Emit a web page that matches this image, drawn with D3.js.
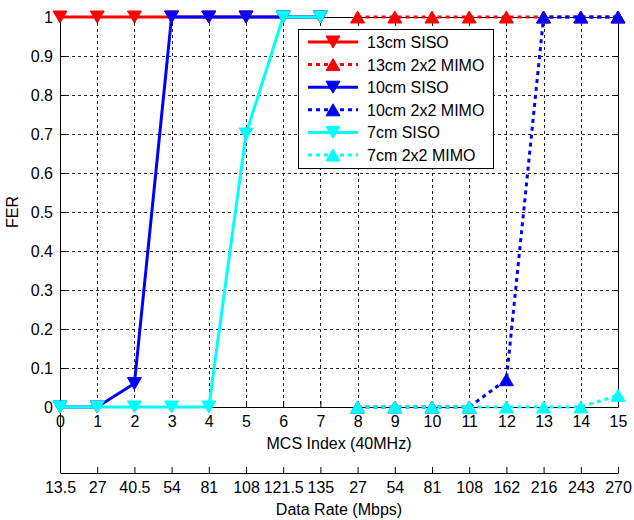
<!DOCTYPE html>
<html>
<head>
<meta charset="utf-8">
<script src="https://cdn.jsdelivr.net/npm/d3@7/dist/d3.min.js"></script>
<style>
  html, body { margin: 0; padding: 0; background: #fff; }
  svg { display: block; font-family: "Liberation Sans", Arial, sans-serif; }
</style>
</head>
<body>
<svg id="chart" width="634" height="520"></svg>
<script>
// MCS indices and the matching data rates (Mbps) shown on the second axis
const mcsIndex = [0, 1, 2, 3, 4, 5, 6, 7, 8, 9, 10, 11, 12, 13, 14, 15];
const dataRates = ["13.5", "27", "40.5", "54", "81", "108", "121.5", "135",
                   "27", "54", "81", "108", "162", "216", "243", "270"];
const yTicks = [0, 0.1, 0.2, 0.3, 0.4, 0.5, 0.6, 0.7, 0.8, 0.9, 1];

// SISO runs over MCS 0-7, 2x2 MIMO over MCS 8-15
const sisoMcs = [0, 1, 2, 3, 4, 5, 6, 7];
const mimoMcs = [8, 9, 10, 11, 12, 13, 14, 15];

const fer13Siso = [1, 1, 1, 1, 1, 1, 1, 1];
const fer13Mimo = [1, 1, 1, 1, 1, 1, 1, 1];
const fer10Siso = [0, 0, 0.06, 1, 1, 1, 1, 1];
const fer10Mimo = [0, 0, 0, 0, 0.07, 1, 1, 1];
const fer7Siso  = [0, 0, 0, 0, 0, 0.7, 1, 1];
const fer7Mimo  = [0, 0, 0, 0, 0, 0, 0, 0.03];

const series = [
  { name: "13cm SISO",     color: "#ff0000", x: sisoMcs, y: fer13Siso, dotted: false, marker: "down" },
  { name: "13cm 2x2 MIMO", color: "#ff0000", x: mimoMcs, y: fer13Mimo, dotted: true,  marker: "up" },
  { name: "10cm SISO",     color: "#0000ff", x: sisoMcs, y: fer10Siso, dotted: false, marker: "down" },
  { name: "10cm 2x2 MIMO", color: "#0000ff", x: mimoMcs, y: fer10Mimo, dotted: true,  marker: "up" },
  { name: "7cm SISO",      color: "#00ffff", x: sisoMcs, y: fer7Siso,  dotted: false, marker: "down" },
  { name: "7cm 2x2 MIMO",  color: "#00ffff", x: mimoMcs, y: fer7Mimo,  dotted: true,  marker: "up" }
];

const svg = d3.select("#chart");
const L = 60, R = 618, T = 17, B = 407, B2 = 473;
const fontSize = 16;

const x = d3.scaleLinear().domain([0, 15]).range([L, R]);
const y = d3.scaleLinear().domain([0, 1]).range([B, T]);
const xRate = d3.scalePoint().domain(d3.range(dataRates.length)).range([L, R]);

// grid
const grid = svg.append("g").attr("stroke", "#222").attr("stroke-width", 1)
  .attr("stroke-dasharray", "3,3").attr("shape-rendering", "crispEdges");
grid.selectAll(".gx").data(mcsIndex.filter(d => d > 0 && d < 15)).join("line")
  .attr("x1", d => Math.round(x(d)) + 0.5).attr("x2", d => Math.round(x(d)) + 0.5)
  .attr("y1", T).attr("y2", B);
grid.selectAll(".gy").data(yTicks.filter(d => d > 0 && d < 1)).join("line")
  .attr("y1", d => Math.round(y(d)) + 0.5).attr("y2", d => Math.round(y(d)) + 0.5)
  .attr("x1", L).attr("x2", R);

// axes (ticks pointing inward)
const axisStyle = g => {
  g.selectAll("text").attr("font-size", fontSize).attr("fill", "#000")
    .attr("font-family", "'Liberation Sans', Arial, sans-serif");
  g.selectAll("line, path").attr("stroke", "#000");
};

svg.append("g").attr("transform", `translate(0,${B})`)
  .call(d3.axisBottom(x).tickValues(mcsIndex).tickFormat(d3.format("d"))
    .tickSizeInner(-6).tickSizeOuter(0).tickPadding(9))
  .call(axisStyle);
svg.append("g").attr("transform", `translate(0,${T})`)
  .call(d3.axisTop(x).tickValues(mcsIndex).tickFormat("").tickSizeInner(-6).tickSizeOuter(0))
  .call(axisStyle);
svg.append("g").attr("transform", `translate(${L},0)`)
  .call(d3.axisLeft(y).tickValues(yTicks).tickFormat(d => d3.format("")(d))
    .tickSizeInner(-6).tickSizeOuter(0).tickPadding(7))
  .call(axisStyle);
svg.append("g").attr("transform", `translate(${R},0)`)
  .call(d3.axisRight(y).tickValues(yTicks).tickFormat("").tickSizeInner(-6).tickSizeOuter(0))
  .call(axisStyle);

// data-rate axis
svg.append("g").attr("transform", `translate(0,${B2})`)
  .call(d3.axisBottom(xRate).tickFormat(i => dataRates[i])
    .tickSizeInner(-6).tickSizeOuter(0).tickPadding(9))
  .call(axisStyle);
svg.append("line").attr("x1", L + 0.5).attr("x2", L + 0.5).attr("y1", B).attr("y2", B2)
  .attr("stroke", "#000");

// axis titles
svg.append("text").attr("x", (L + R) / 2).attr("y", 449).attr("text-anchor", "middle")
  .attr("font-size", fontSize).text("MCS Index (40MHz)");
svg.append("text").attr("x", (L + R) / 2).attr("y", 515).attr("text-anchor", "middle")
  .attr("font-size", fontSize).text("Data Rate (Mbps)");
svg.append("text").attr("transform", `translate(18,${(T + B) / 2}) rotate(-90)`)
  .attr("text-anchor", "middle").attr("font-size", fontSize).text("FER");

// markers
const triDown = "M-7,-6L7,-6L0,6Z";
const triUp = "M-7,6L7,6L0,-6Z";

const line = d3.line().x(d => x(d[0])).y(d => y(d[1]));
const plot = svg.append("g");
series.forEach(s => {
  const pts = s.x.map((v, i) => [v, s.y[i]]);
  const g = plot.append("g");
  g.append("path").datum(pts).attr("d", line).attr("fill", "none")
    .attr("stroke", s.color).attr("stroke-width", 3)
    .attr("stroke-dasharray", s.dotted ? "4,4" : null)
    .attr("stroke-linejoin", "round");
  g.selectAll("path.m").data(pts).join("path").attr("class", "m")
    .attr("d", s.marker === "down" ? triDown : triUp)
    .attr("transform", d => `translate(${x(d[0])},${y(d[1])})`)
    .attr("fill", s.color).attr("stroke", s.color).attr("stroke-width", 1);
});

// legend
const lg = svg.append("g");
lg.append("rect").attr("x", 298.5).attr("y", 29.5).attr("width", 195).attr("height", 139)
  .attr("fill", "#fff").attr("stroke", "#000").attr("stroke-width", 1);
series.forEach((s, i) => {
  const cy = 42 + i * 22.6;
  lg.append("line").attr("x1", 308).attr("x2", 358).attr("y1", cy).attr("y2", cy)
    .attr("stroke", s.color).attr("stroke-width", 3)
    .attr("stroke-dasharray", s.dotted ? "4,4" : null);
  lg.append("path").attr("d", s.marker === "down" ? triDown : triUp)
    .attr("transform", `translate(333,${cy})`).attr("fill", s.color).attr("stroke", s.color);
  lg.append("text").attr("x", 367).attr("y", cy + 6).attr("font-size", fontSize).text(s.name);
});
</script>
</body>
</html>
